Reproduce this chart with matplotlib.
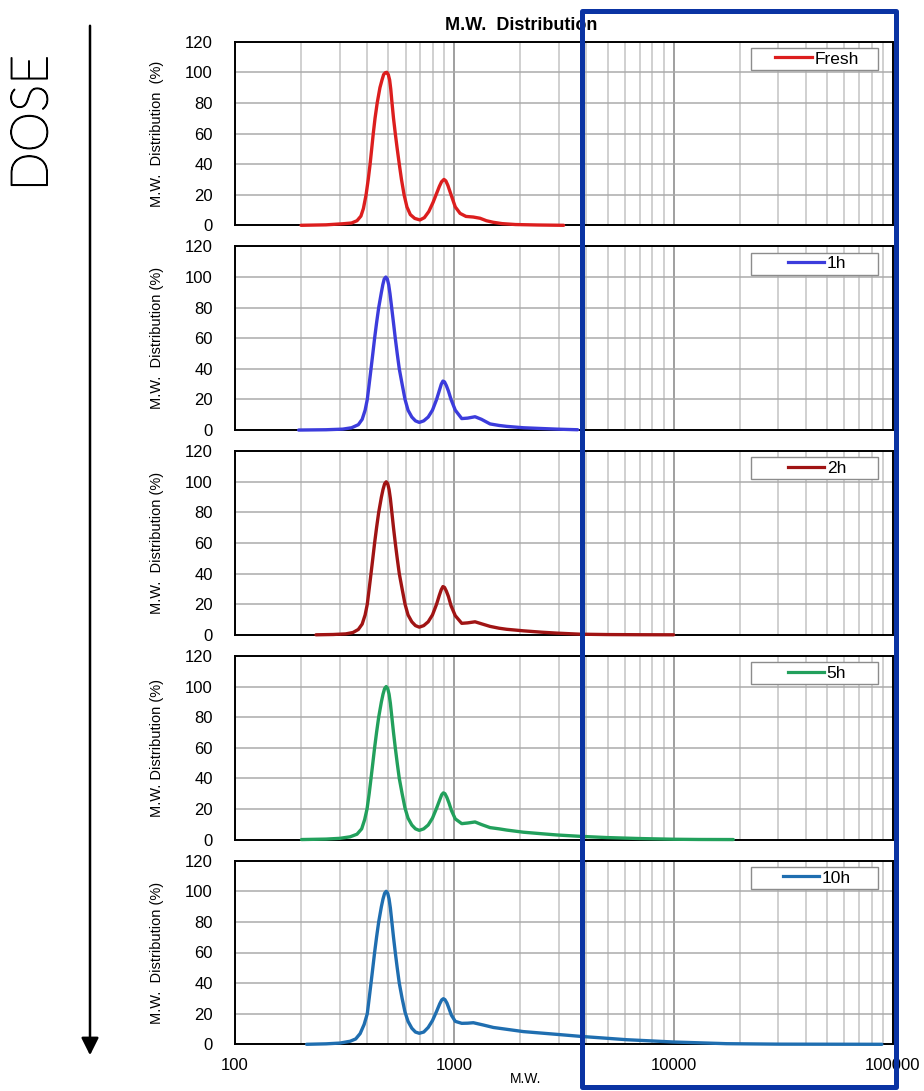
"""M.W. distribution stacked by dose (Fresh -> 10h), log M.W. axis."""

import matplotlib

matplotlib.use("Agg")
import matplotlib.pyplot as plt  # noqa: E402
import matplotlib.patheffects as pe  # noqa: E402
from matplotlib.patches import Rectangle, FancyArrowPatch  # noqa: E402
from matplotlib.lines import Line2D  # noqa: E402
from matplotlib.ticker import LogLocator, FixedLocator, NullFormatter  # noqa: E402

plt.rcParams["font.family"] = ["Liberation Sans", "DejaVu Sans"]

# --- data ------------------------------------------------------------------
fresh_mw = [200, 260, 310, 340, 360, 375, 385, 396, 405, 413, 420, 427, 435, 445, 458, 468, 476, 484,
            492, 500, 507, 513, 519, 528, 538, 549, 561, 574, 590, 608, 630, 660, 697, 730, 765, 800,
            831, 855, 875, 897, 915, 935, 966, 1010, 1062, 1130, 1220, 1310, 1400, 1500, 1650, 1900,
            2400, 3150]
fresh_val = [0, 0.3, 1, 1.5, 3, 6, 11, 20, 30, 40, 50, 60, 70, 80, 90, 95, 98.5, 99.7,
             100, 98.5, 95, 89, 81, 70, 60, 50, 40, 30, 20, 12, 7, 4.5, 3.5, 5, 9, 15,
             21, 25.5, 28.5, 30, 29, 26, 20, 12, 7.8, 5.8, 5.4, 4.6, 3, 2, 1.1, 0.5,
             0.2, 0]

h1_mw = [195, 260, 310, 340, 365, 380, 392, 401, 409, 417, 425, 433, 442, 452, 465, 472, 479, 487,
         495, 502, 509, 518, 528, 538, 549, 561, 578, 596, 615, 640, 665, 692, 725, 760, 795, 830,
         855, 872, 887, 902, 920, 940, 966, 1010, 1081, 1150, 1243, 1330, 1455, 1600, 1733, 2065,
         2500, 2930, 3650]
h1_val = [0, 0.2, 0.6, 1.5, 3.5, 7, 13, 20, 30, 40, 50, 60, 70, 80, 90, 95, 98.7, 100,
          98.7, 95, 89, 80, 70, 60, 50, 40, 30, 20, 13, 8.5, 6, 5, 6, 8.5, 13, 20,
          26, 30, 32, 31.5, 29, 25.5, 20, 13, 7.5, 7.8, 8.7, 7, 4, 3, 2.4, 1.5,
          1, 0.6, 0.2]

h2_mw = [234, 280, 320, 345, 365, 380, 392, 401, 409, 417, 425, 433, 442, 452, 465, 473, 481, 489,
         497, 504, 511, 519, 528, 538, 549, 561, 578, 596, 615, 640, 665, 692, 725, 760, 795, 830,
         855, 872, 887, 902, 920, 940, 966, 1010, 1081, 1150, 1243, 1330, 1455, 1600, 1733, 2065,
         2500, 2930, 3745, 5000, 7000, 10000]
h2_val = [0, 0.2, 0.6, 1.5, 3.5, 7, 13, 20, 30, 40, 50, 60, 70, 80, 90, 95, 98.7, 100,
          98.7, 95, 89, 80, 70, 60, 50, 40, 30, 20, 13, 8.5, 6, 5, 6, 8.5, 13, 20,
          26, 29.5, 31.5, 31, 28.5, 25, 19, 12.5, 7.5, 7.8, 8.5, 7.2, 5.5, 4.3, 3.6, 2.6,
          1.7, 1.1, 0.4, 0.15, 0.05, 0]

h5_mw = [201, 260, 301, 335, 360, 378, 390, 400, 409, 417, 425, 433, 442, 452, 465, 473, 481, 489,
         497, 504, 511, 519, 528, 538, 549, 561, 578, 596, 615, 640, 665, 692, 725, 760, 795, 830,
         858, 876, 891, 906, 925, 945, 970, 1010, 1081, 1150, 1243, 1330, 1455, 1600, 1733, 2065,
         2500, 2930, 3745, 4955, 7030, 9970, 13000, 18700]
h5_val = [0, 0.3, 0.8, 1.8, 3.5, 7, 13, 20, 30, 40, 50, 60, 70, 80, 90, 95, 98.7, 100,
          98.7, 95, 89, 80, 70, 60, 50, 40, 30, 20.5, 14, 9.5, 7, 6, 7, 9.5, 14, 20.5,
          26, 29.3, 30.5, 30, 27.5, 24, 19, 13.5, 10.4, 10.8, 11.5, 9.8, 7.8, 7, 6.2, 4.8,
          3.8, 3, 2.1, 1.3, 0.65, 0.2, 0.05, 0]

h10_mw = [212, 260, 301, 335, 355, 372, 388, 401, 409, 417, 425, 433, 442, 452, 465, 473, 481, 489,
          497, 504, 511, 519, 528, 538, 549, 561, 578, 596, 615, 640, 665, 692, 725, 760, 795, 830,
          858, 876, 891, 906, 925, 945, 970, 1010, 1081, 1150, 1221, 1356, 1507, 1733, 2065, 2930,
          3745, 6110, 9980, 17460, 30000, 89000]
h10_val = [0, 0.3, 0.8, 2, 3.5, 7, 13, 20, 30, 40, 50, 60, 70, 80, 90, 95, 98.7, 100,
           98.7, 95, 89, 80, 70, 60, 50, 40, 30, 21, 15, 10.5, 8, 7.2, 8, 11, 15.5, 21.5,
           26.5, 29, 29.8, 29.2, 27, 23.5, 19, 15, 13.7, 13.8, 14.1, 12.6, 11, 9.8, 8.3, 6.5,
           5.2, 3, 1.5, 0.4, 0.1, 0]

labels = ["Fresh", "1h", "2h", "5h", "10h"]
colors = ["#DC1E1E", "#3C3CDC", "#A01414", "#22A05C", "#1F6EB0"]
series = [(fresh_mw, fresh_val), (h1_mw, h1_val), (h2_mw, h2_val), (h5_mw, h5_val), (h10_mw, h10_val)]
ylabels = ["M.W.  Distribution  (%)", "M.W.  Distribution (%)", "M.W.  Distribution (%)",
           "M.W. Distribution (%)", "M.W.  Distribution (%)"]
yticks = [0, 20, 40, 60, 80, 100, 120]
xticks = [100, 1000, 10000, 100000]

W, H = 924, 1091
fig = plt.figure(figsize=(W / 100, H / 100), dpi=100)

AX_L, AX_R = 235, 893
PANEL_H = 183.6
PITCH = 204.75
TOP0 = 41.7

for i, ((mw, val), lab, col, ylab) in enumerate(zip(series, labels, colors, ylabels)):
    top = TOP0 + i * PITCH
    ax = fig.add_axes([AX_L / W, 1 - (top + PANEL_H) / H, (AX_R - AX_L) / W, PANEL_H / H])
    ax.set_xscale("log")
    ax.set_xlim(100, 100000)
    ax.set_ylim(0, 120)
    ax.set_yticks(yticks)
    ax.xaxis.set_major_locator(FixedLocator(xticks))
    ax.xaxis.set_minor_locator(LogLocator(base=10, subs=range(2, 10)))
    ax.xaxis.set_minor_formatter(NullFormatter())
    ax.grid(True, which="major", axis="x", color="#858585", lw=1.1)
    ax.grid(True, which="minor", axis="x", color="#c4c4c4", lw=1.1)
    ax.grid(True, which="major", axis="y", color="#ababab", lw=1.1)
    ax.set_axisbelow(True)
    ax.tick_params(which="both", length=0)
    ax.tick_params(axis="y", labelsize=12, pad=16)
    ax.tick_params(axis="x", labelsize=12, pad=10)
    for sp in ax.spines.values():
        sp.set_linewidth(1.4)
        sp.set_color("black")
    if i < 4:
        ax.set_xticklabels([])
    else:
        ax.set_xticklabels([str(t) for t in xticks])

    ax.plot(mw, val, color=col, lw=2.4, solid_capstyle="round", solid_joinstyle="round",
            clip_on=False, zorder=3)

    # legend: fixed-size frame with the key centred in it
    ax.add_patch(Rectangle((0.784, 0.846), 0.193, 0.12, transform=ax.transAxes,
                           facecolor="white", edgecolor="#8c8c8c", lw=1.0, zorder=4))
    leg = ax.legend([Line2D([], [], color=col, lw=2.3)], [lab], loc="center",
                    bbox_to_anchor=(0.8845, 0.906), frameon=False, fontsize=12.5,
                    handlelength=2.1, handletextpad=0.15, borderpad=0, borderaxespad=0)
    leg.set_zorder(5)

    fig.text(157 / W, 1 - (top + PANEL_H / 2) / H, ylab, rotation=90,
             ha="center", va="center", fontsize=10.5)

fig.text(521 / W, 1 - 26 / H, "M.W.  Distribution", ha="center", va="center",
         fontsize=13, fontweight="bold")
fig.text(526 / W, 1 - 1079 / H, "M.W.", ha="center", va="center", fontsize=10)

# DOSE arrow on the left (light face, thickened slightly)
fig.text(33 / W, 1 - 123 / H, "DOSE", rotation=90, ha="center", va="center",
         fontsize=37, family=["Lato", "DejaVu Sans"], fontweight="light",
         path_effects=[pe.withStroke(linewidth=1.0, foreground="black")])
fig.add_artist(FancyArrowPatch((90 / W, 1 - 23 / H), (90 / W, 1 - 1058 / H),
                               transform=fig.transFigure, color="black", lw=1.8,
                               arrowstyle="-|>,head_length=0.7,head_width=0.35",
                               mutation_scale=15))

# highlight box over the high-M.W. region
fig.add_artist(Rectangle((582 / W, 1 - 1087 / H), 313.5 / W, 1076 / H,
                         transform=fig.transFigure, fill=False, edgecolor="#0A33A3",
                         lw=3.6, joinstyle="round", zorder=10))

fig.savefig("out.png", dpi=100)
